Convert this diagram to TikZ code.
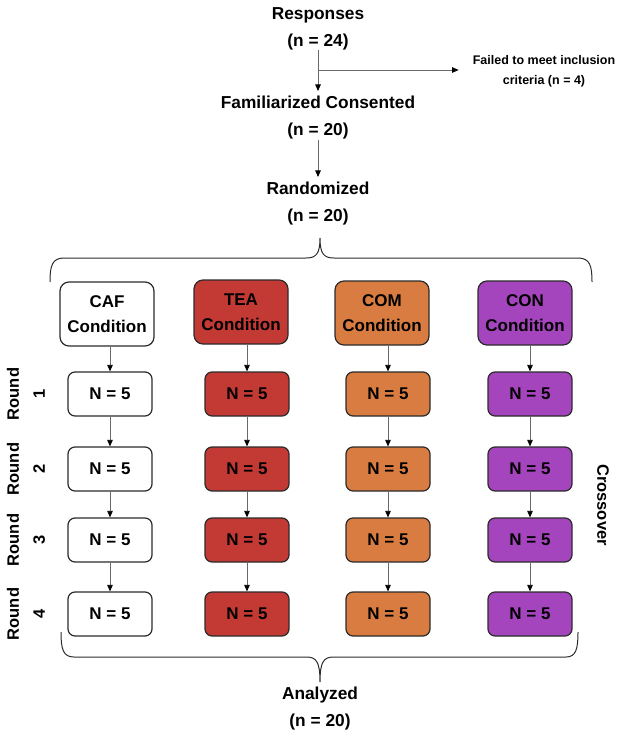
\documentclass[tikz,border=0pt]{standalone}
\usepackage{fontspec}
\setmainfont{Liberation Sans}
\usetikzlibrary{arrows.meta}
\definecolor{teared}{HTML}{C33934}
\definecolor{comorange}{HTML}{D97C41}
\definecolor{conpurple}{HTML}{A545BD}
\definecolor{edgegray}{HTML}{2B2B2B}
\definecolor{linegray}{HTML}{6A6A6A}
\tikzset{
  big/.style={font=\fontsize{17.3}{27}\selectfont\bfseries, align=center, inner sep=0pt, anchor=north},
  small/.style={font=\fontsize{12.5}{20}\selectfont\bfseries, align=center, inner sep=0pt},
  cond/.style={draw=edgegray, line width=1.2pt, rounded corners=9pt, minimum width=94pt, minimum height=64pt, align=center, font=\fontsize{17}{25}\selectfont\bfseries, inner sep=0pt},
  nbox/.style={draw=edgegray, line width=1.2pt, rounded corners=7pt, minimum width=84pt, minimum height=44pt, font=\fontsize{17}{18}\selectfont\bfseries, inner sep=0pt},
  roundlab/.style={rotate=90, align=center, font=\fontsize{16.5}{26}\selectfont\bfseries, inner sep=0pt},
  arr/.style={draw=linegray, line width=0.8pt, -{Triangle[length=6.5pt,width=5.5pt,color=black]}},
  brace/.style={draw=edgegray, line width=1pt}
}
\begin{document}
\begin{tikzpicture}[x=1pt,y=-1pt]
\useasboundingbox (0,0) rectangle (630,730);
% top flow
\node[big] (resp) at (318,7) {Responses\\(n = 24)};
\node[big] (fam) at (318,96) {Familiarized Consented\\(n = 20)};
\node[big] (rand) at (318,182) {Randomized\\(n = 20)};
\node[small] (fail) at (544,71) {Failed to meet inclusion\\criteria (n = 4)};
\coordinate (br) at (318,70);
\draw[arr, shorten >=5pt] (resp.south) -- (fam.north);
\draw[arr, shorten >=14pt] (br) -- (br -| fail.west);
\draw[arr, shorten >=5pt] (fam.south) -- (rand.north);
% top brace
\draw[brace] (50,282) .. controls (50,266) and (52,258) .. (64,258) -- (306,258)
  .. controls (316,258) and (320,254) .. (320,238)
  .. controls (320,254) and (324,258) .. (334,258) -- (578,258)
  .. controls (590,258) and (592,266) .. (592,282);
% conditions
\node[cond, fill=white] (c1) at (107,314) {CAF\\Condition};
\node[cond, fill=teared] (c2) at (241,312) {TEA\\Condition};
\node[cond, fill=comorange] (c3) at (382,313) {COM\\Condition};
\node[cond, fill=conpurple] (c4) at (525,313) {CON\\Condition};
% N boxes
\foreach \col/\x/\fc in {1/110/white, 2/247/teared, 3/388/comorange, 4/530/conpurple}{
  \node[nbox, fill=\fc] (n\col-1) at (\x,394) {N = 5};
  \node[nbox, fill=\fc] (n\col-2) at (\x,469) {N = 5};
  \node[nbox, fill=\fc] (n\col-3) at (\x,540) {N = 5};
  \node[nbox, fill=\fc] (n\col-4) at (\x,614) {N = 5};
  \draw[arr] (c\col.south -| n\col-1.north) -- (n\col-1.north);
  \draw[arr] (n\col-1.south) -- (n\col-2.north);
  \draw[arr] (n\col-2.south) -- (n\col-3.north);
  \draw[arr] (n\col-3.south) -- (n\col-4.north);
}
% round labels
\node[roundlab] (r1) at (26,394) {Round\\1};
\node[roundlab] (r2) at (26,469) {Round\\2};
\node[roundlab] (r3) at (26,540) {Round\\3};
\node[roundlab] (r4) at (26,614) {Round\\4};
\node[rotate=-90, font=\fontsize{16.5}{18}\selectfont\bfseries, inner sep=0pt] (cross) at (603,505) {Crossover};
% bottom brace
\draw[brace] (61,632) .. controls (61,649) and (63,657) .. (74,657) -- (306,657)
  .. controls (316,657) and (320,661) .. (320,682)
  .. controls (320,661) and (324,657) .. (334,657) -- (566,657)
  .. controls (576,657) and (578,649) .. (578,632);
\node[big] (anal) at (320,687) {Analyzed\\(n = 20)};
\end{tikzpicture}
\end{document}
